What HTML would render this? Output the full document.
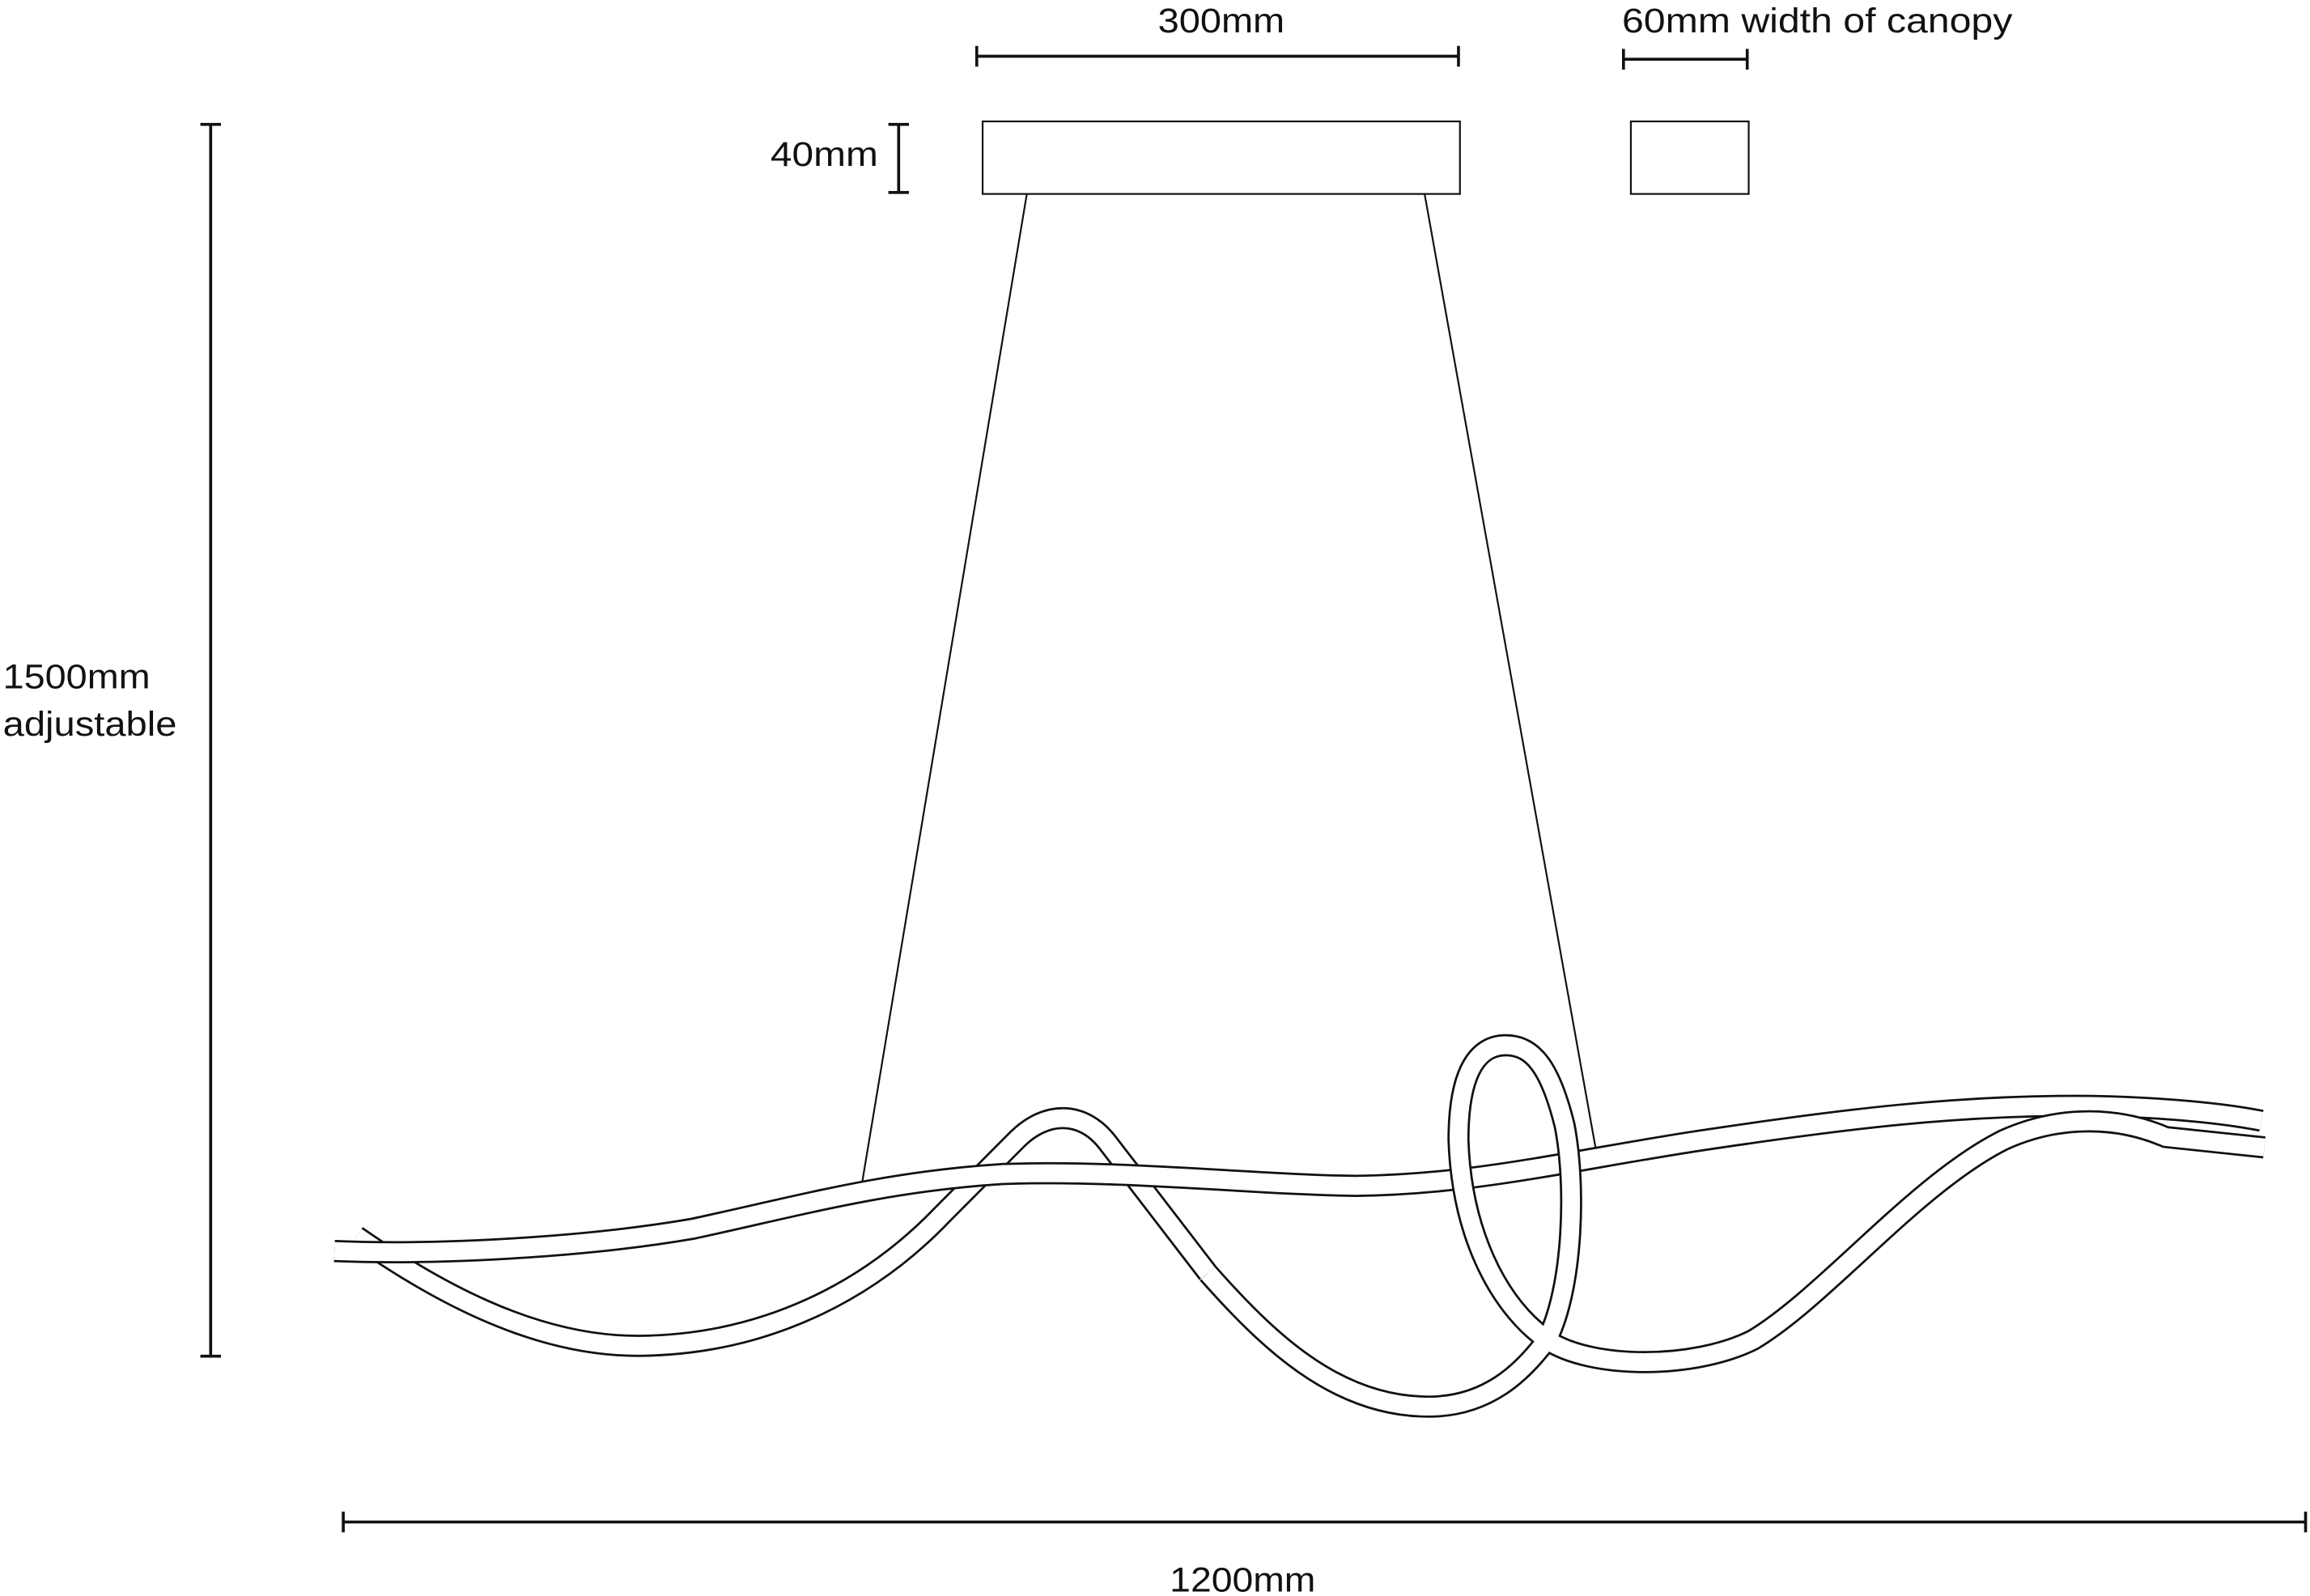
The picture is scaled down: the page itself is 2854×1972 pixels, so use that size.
<!DOCTYPE html>
<html><head><meta charset="utf-8"><style>html,body{margin:0;padding:0;background:#fff;}svg{display:block}</style></head>
<body>
<svg width="2854" height="1972" viewBox="0 0 1568 1078" preserveAspectRatio="none" xmlns="http://www.w3.org/2000/svg">
<rect width="1568" height="1078" fill="#fff"/>
<g font-family="Liberation Sans, sans-serif" font-size="23.5" fill="#111">
<text x="786" y="22" textLength="86" lengthAdjust="spacingAndGlyphs">300mm</text>
<text x="1101" y="22" textLength="265" lengthAdjust="spacingAndGlyphs">60mm width of canopy</text>
<text x="523" y="112" textLength="73" lengthAdjust="spacingAndGlyphs">40mm</text>
<text x="2" y="465" textLength="100" lengthAdjust="spacingAndGlyphs">1500mm</text>
<text x="2" y="497" textLength="118" lengthAdjust="spacingAndGlyphs">adjustable</text>
<text x="794" y="1075" textLength="99" lengthAdjust="spacingAndGlyphs">1200mm</text>
</g>
<g stroke="#111" stroke-width="2" fill="none">
<line x1="663" y1="38" x2="990" y2="38"/><line x1="663" y1="31" x2="663" y2="45"/><line x1="990" y1="31" x2="990" y2="45"/>
<line x1="1102" y1="40" x2="1186" y2="40"/><line x1="1102" y1="33" x2="1102" y2="47"/><line x1="1186" y1="33" x2="1186" y2="47"/>
<line x1="610" y1="84" x2="610" y2="130"/><line x1="603" y1="84" x2="617" y2="84"/><line x1="603" y1="130" x2="617" y2="130"/>
<line x1="143" y1="84" x2="143" y2="916"/><line x1="136" y1="84" x2="150" y2="84"/><line x1="136" y1="916" x2="150" y2="916"/>
<line x1="233" y1="1028" x2="1565" y2="1028"/><line x1="233" y1="1021" x2="233" y2="1035"/><line x1="1565" y1="1021" x2="1565" y2="1035"/>
</g>
<g stroke="#111" stroke-width="1.2" fill="none">
<rect x="667" y="82" width="324" height="49"/>
<rect x="1107" y="82" width="80" height="49"/>
<line x1="697" y1="131" x2="585" y2="800"/>
<line x1="967" y1="131" x2="1083" y2="775"/>
</g>
<g fill="none" stroke-linejoin="round">
<path d="M242,835 C290,868 360,910 435,909 C520,908 590,872 640,820 L690,770 C710,750 735,750 752,772 L820,860" stroke="#111" stroke-width="15"/>
<path d="M242,835 C290,868 360,910 435,909 C520,908 590,872 640,820 L690,770 C710,750 735,750 752,772 L820,860" stroke="#fff" stroke-width="12"/>
<path d="M227,845 C300,848 400,842 470,830 C540,815 600,798 680,793 C760,790 850,800 920,801 C1000,800 1060,785 1150,771 C1250,756 1330,746 1420,747 C1470,748 1510,752 1535,757" stroke="#111" stroke-width="15"/>
<path d="M227,845 C300,848 400,842 470,830 C540,815 600,798 680,793 C760,790 850,800 920,801 C1000,800 1060,785 1150,771 C1250,756 1330,746 1420,747 C1470,748 1510,752 1535,757" stroke="#fff" stroke-width="12"/>
<path d="M820,860 C860,905 905,948 965,950 C1010,952 1035,925 1050,905 C1068,870 1070,800 1062,760 C1052,720 1040,706 1022,706 C1000,706 990,730 990,770 C992,830 1015,880 1050,905 C1080,925 1150,925 1190,905 C1240,875 1300,800 1360,770 C1400,752 1440,755 1470,768 L1537,775" stroke="#111" stroke-width="15"/>
<path d="M820,860 C860,905 905,948 965,950 C1010,952 1035,925 1050,905 C1068,870 1070,800 1062,760 C1052,720 1040,706 1022,706 C1000,706 990,730 990,770 C992,830 1015,880 1050,905 C1080,925 1150,925 1190,905 C1240,875 1300,800 1360,770 C1400,752 1440,755 1470,768 L1537,775" stroke="#fff" stroke-width="12"/>
</g>
</svg>
</body></html>
